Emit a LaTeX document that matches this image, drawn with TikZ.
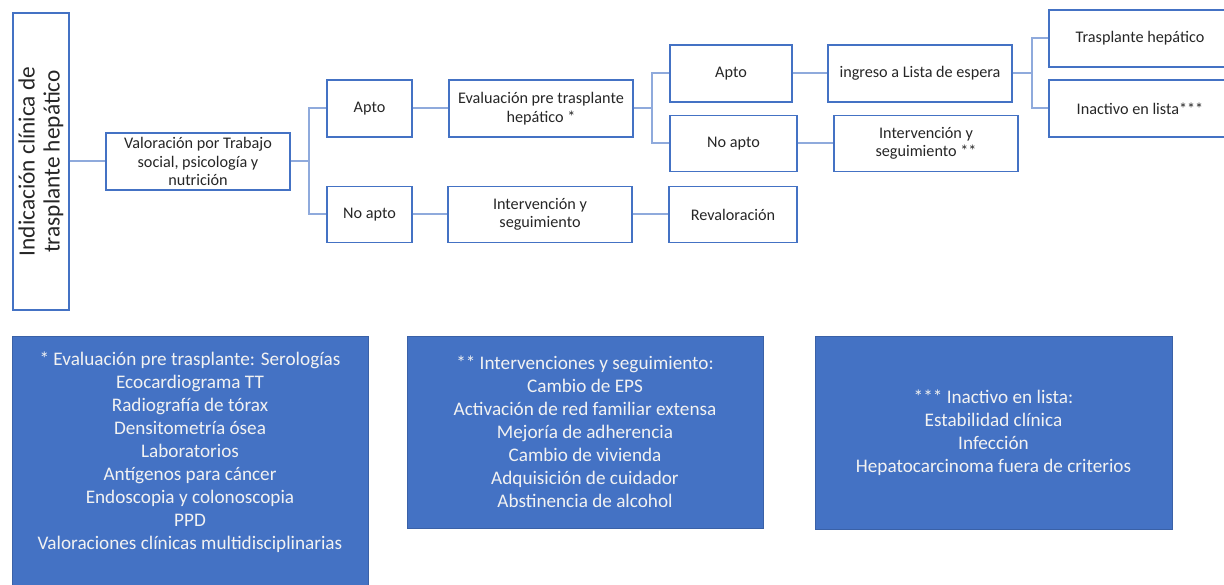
\documentclass[tikz,border=0pt]{standalone}
\usepackage{fontspec}
\setmainfont{Carlito}
\usetikzlibrary{positioning}

\definecolor{boxblue}{HTML}{4472C4}
\definecolor{linkblue}{HTML}{8FAADC}
\definecolor{txtgray}{HTML}{262626}

\begin{document}
\begin{tikzpicture}[x=1pt,y=-1pt,
  box/.style={draw=boxblue, line width=1.2pt, align=center, text=txtgray,
    font=\fontsize{16.2}{18.5}\selectfont, inner sep=0pt},
  note/.style={fill=boxblue, draw=boxblue!85!black, line width=0.6pt, inner sep=0pt},
  notetext/.style={align=center, text=white!95!black, inner sep=0pt,
    font=\fontsize{19.2}{23}\selectfont},
  link/.style={draw=linkblue, line width=2pt}]

\useasboundingbox (0,0) rectangle (1224,585);
\clip (0,0) rectangle (1224,585);

% header box
\node[box, rotate=90, minimum width=297pt, minimum height=56pt,
  font=\fontsize{23.3}{25}\selectfont] (ind) at (41,161.5)
  {Indicación clínica de\\trasplante hepático};

% first level
\node[box, minimum width=184pt, minimum height=57pt] (val) at (198,161.5)
  {Valoración por Trabajo\\social, psicología y\\nutrición};
\node[box, minimum width=85pt, minimum height=57pt] (apto1) at (369.5,108.5) {Apto};
\node[box, minimum width=85pt, minimum height=56pt] (noapto1) at (369.5,214.5) {No apto};

% second level
\node[box, minimum width=184pt, minimum height=57pt] (eval) at (541,108.5)
  {Evaluación pre trasplante\\hepático *};
\node[box, minimum width=184pt, minimum height=56pt] (interv1) at (540,214.5)
  {Intervención y\\seguimiento};
\node[box, minimum width=128pt, minimum height=56pt] (reval) at (733,214.5) {Revaloración};

% third level
\node[box, minimum width=122pt, minimum height=57pt] (apto2) at (731,73.5) {Apto};
\node[box, minimum width=127pt, minimum height=56pt] (noapto2) at (733.5,143.5) {No apto};
\node[box, minimum width=184pt, minimum height=57pt] (ingreso) at (920,73.5)
  {ingreso a Lista de espera};
\node[box, minimum width=184pt, minimum height=56pt] (interv2) at (926,143.5)
  {Intervención y\\seguimiento **};

% last level
\node[box, minimum width=182pt, minimum height=57pt] (trasp) at (1140,38.5)
  {Trasplante hepático};
\node[box, minimum width=182pt, minimum height=57pt] (inact) at (1140,108.5)
  {Inactivo en lista***};

% connectors
\draw[link] (ind) -- (val);
\draw[link] (val.east) -- ++(18,0) coordinate (j1);
\draw[link] (j1) |- (apto1.west);
\draw[link] (j1) |- (noapto1.west);
\draw[link] (apto1) -- (eval);
\draw[link] (noapto1) -- (interv1);
\draw[link] (interv1) -- (reval);
\draw[link] (eval.east) -- ++(18,0) coordinate (j2);
\draw[link] (j2) |- (apto2.west);
\draw[link] (j2) |- (noapto2.west);
\draw[link] (apto2) -- (ingreso);
\draw[link] (noapto2) -- (interv2);
\draw[link] (ingreso.east) -- ++(19,0) coordinate (j3);
\draw[link] (j3) |- (trasp.west);
\draw[link] (j3) |- (inact.west);

% notes
\node[note, minimum width=356pt, minimum height=264pt] (n1) at (190,468) {};
\node[notetext] (t1) at (190,452) {* Evaluación pre trasplante: Serologías\\
  Ecocardiograma TT\\Radiografía de tórax\\Densitometría ósea\\Laboratorios\\
  Antígenos para cáncer\\Endoscopia y colonoscopia\\PPD\\
  Valoraciones clínicas multidisciplinarias};

\node[note, minimum width=356pt, minimum height=192pt] (n2) at (585,432) {};
\node[notetext] (t2) at (585,431.5) {** Intervenciones y seguimiento:\\
  Cambio de EPS\\Activación de red familiar extensa\\Mejoría de adherencia\\
  Cambio de vivienda\\Adquisición de cuidador\\Abstinencia de alcohol};

\node[note, minimum width=357pt, minimum height=193pt] (n3) at (993.5,432.5) {};
\node[notetext] (t3) at (993.5,432.5) {*** Inactivo en lista:\\
  Estabilidad clínica\\Infección\\Hepatocarcinoma fuera de criterios};

\end{tikzpicture}
\end{document}
